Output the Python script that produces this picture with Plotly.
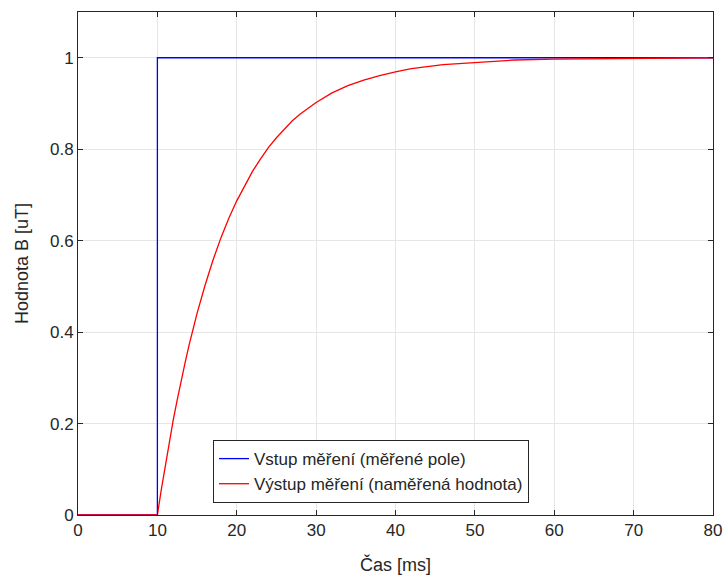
import plotly.graph_objects as go

# Input step (blue)
t_in = [0, 10, 10, 80]
b_in = [0, 0, 1, 1]

t_out = [0, 10, 10.5, 11, 11.5, 12, 12.5, 13, 13.5, 14, 15, 16, 17, 18, 19, 20,
         21, 22, 23, 24, 25, 26, 27, 28, 29, 30, 32, 34, 36, 38, 40, 42, 46,
         50, 55, 60, 70, 80]
b_out = [0, 0, 0.056, 0.110, 0.160, 0.208, 0.252, 0.295, 0.334, 0.372, 0.441,
         0.502, 0.557, 0.606, 0.649, 0.687, 0.721, 0.752, 0.779, 0.804, 0.825,
         0.844, 0.862, 0.877, 0.890, 0.902, 0.923, 0.939, 0.951, 0.961, 0.969,
         0.976, 0.985, 0.990, 0.995, 0.997, 0.999, 1.000]

x_ticks = [0, 10, 20, 30, 40, 50, 60, 70, 80]
y_ticks = [0, 0.2, 0.4, 0.6, 0.8, 1]
y_tick_text = ["0", "0.2", "0.4", "0.6", "0.8", "1"]

names = ["Vstup měření (měřené pole)", "Výstup měření (naměřená hodnota)"]

FONT = "Liberation Sans, Arial, sans-serif"

fig = go.Figure()
fig.add_trace(go.Scatter(x=t_in, y=b_in, mode="lines", name=names[0],
                         line=dict(color="#0000ff", width=1.3)))
fig.add_trace(go.Scatter(x=t_out, y=b_out, mode="lines", name=names[1],
                         line=dict(color="#ff0000", width=1.3)))

axis_common = dict(showline=True, linecolor="#262626", linewidth=1, mirror="ticks",
                   ticks="inside", ticklen=5, tickcolor="#262626",
                   showgrid=True, gridcolor="#e6e6e6", gridwidth=1, zeroline=False,
                   tickfont=dict(family=FONT, size=17, color="#262626"),
                   title_font=dict(family=FONT, size=18, color="#262626"))

fig.update_xaxes(range=[0, 80], tickvals=x_ticks, title_text="Čas [ms]", title_standoff=18, **axis_common)
fig.update_yaxes(range=[0, 1.1], tickvals=y_ticks, ticktext=y_tick_text,
                 title_text="Hodnota B [uT]", title_standoff=16, **axis_common)

fig.update_layout(
    width=725, height=577,
    margin=dict(l=78, r=12, t=12, b=62, autoexpand=False),
    paper_bgcolor="white", plot_bgcolor="white",
    legend=dict(x=0.2126, y=0.149, xanchor="left", yanchor="top",
                bgcolor="white", bordercolor="#262626", borderwidth=1,
                font=dict(family=FONT, size=17, color="#262626"),
                tracegroupgap=0),
    showlegend=True,
)

fig.write_html("out.html")
